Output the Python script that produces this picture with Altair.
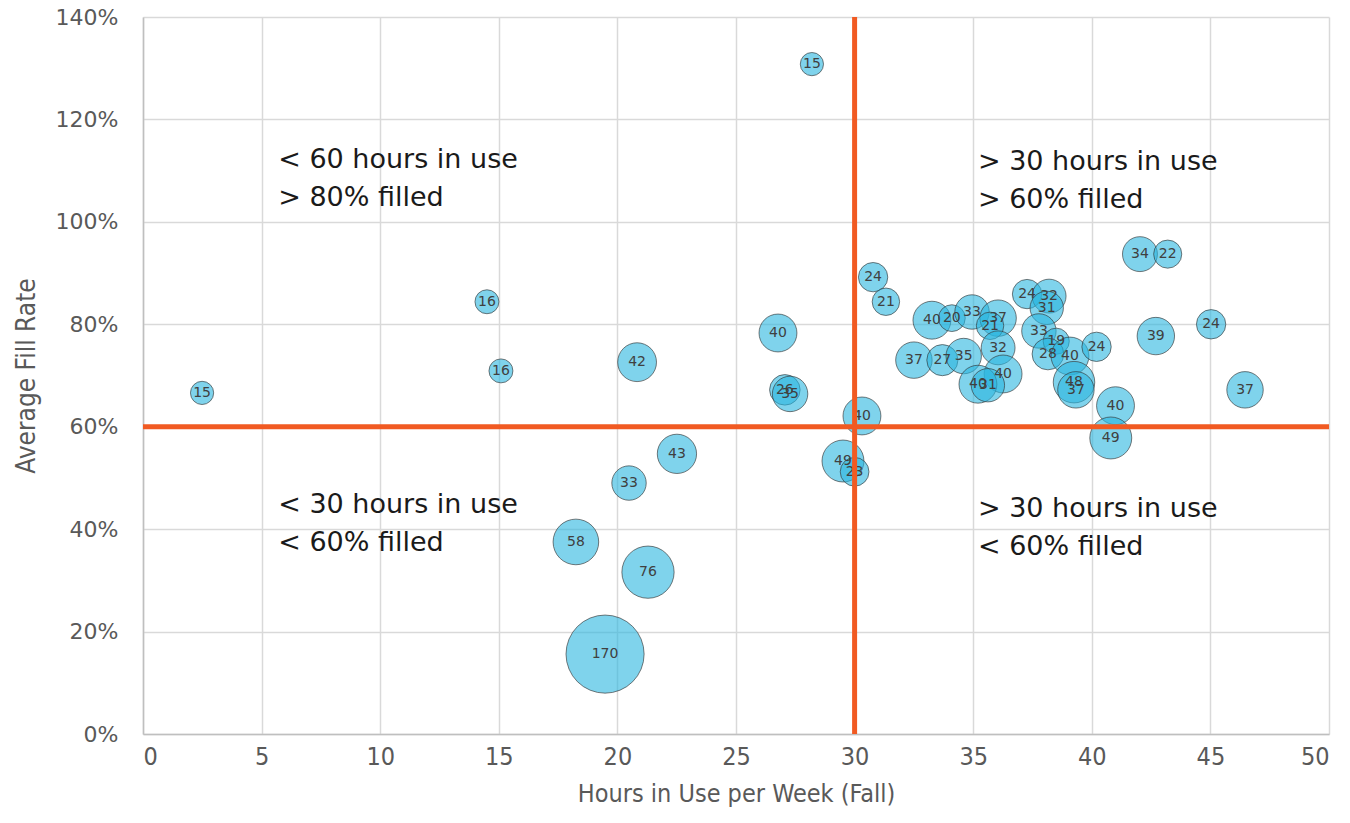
import altair as alt
import pandas as pd

hours = [2.49, 14.5, 15.09, 20.83, 26.77, 27.06, 27.28, 28.2, 30.31, 29.51, 30.0, 30.78, 31.32,
         22.51, 20.49, 18.25, 21.29, 19.48,
         33.26, 34.1, 34.95, 36.05, 35.71, 32.5, 33.7, 34.6, 36.05, 36.26, 35.2, 35.62,
         37.27, 38.2, 38.1, 37.77, 38.5, 38.15, 39.08, 40.2, 39.25, 39.33, 41.0, 40.8,
         42.03, 43.2, 42.7, 45.03, 46.46]
fill = [0.666, 0.844, 0.709, 0.726, 0.783, 0.672, 0.664, 1.308, 0.621, 0.533, 0.512, 0.892, 0.844,
        0.547, 0.490, 0.375, 0.316, 0.156,
        0.808, 0.812, 0.824, 0.812, 0.797, 0.730, 0.730, 0.738, 0.754, 0.703, 0.683, 0.681,
        0.859, 0.855, 0.832, 0.787, 0.767, 0.742, 0.738, 0.756, 0.687, 0.672, 0.641, 0.578,
        0.937, 0.937, 0.777, 0.800, 0.672]
sizes = [15, 16, 16, 42, 40, 26, 35, 15, 40, 49, 23, 24, 21,
         43, 33, 58, 76, 170,
         40, 20, 33, 37, 21, 37, 27, 35, 32, 40, 40, 31,
         24, 32, 31, 33, 19, 28, 40, 24, 48, 37, 40, 49,
         34, 22, 39, 24, 37]

note_x = [5.7, 35.2, 5.7, 35.2]
note_y = [1.12, 1.117, 0.448, 0.44]
note_text = ["< 60 hours in use\n> 80% filled", "> 30 hours in use\n> 60% filled",
             "< 30 hours in use\n< 60% filled", "> 30 hours in use\n< 60% filled"]

x_threshold = [30]
y_threshold = [0.60]

df = pd.DataFrame({"hours": hours, "fill": fill, "size": sizes})
notes = pd.DataFrame({"x": note_x, "y": note_y, "t": note_text})

narrow = "Liberation Sans Narrow, DejaVu Sans Condensed, sans-serif"

xscale = alt.Scale(domain=[0, 50], nice=False)
yscale = alt.Scale(domain=[0, 1.4], nice=False)

base = alt.Chart(df)

bubbles = base.mark_circle(fill="#29B6E0", fillOpacity=0.6, stroke="#333333",
                           strokeWidth=0.8, strokeOpacity=0.8).encode(
    x=alt.X("hours:Q", scale=xscale,
            axis=alt.Axis(title="Hours in Use per Week (Fall)", values=list(range(0, 51, 5)),
                          labelFont=narrow, labelFontSize=25, labelColor="#595959",
                          titleFont=narrow, titleFontSize=25, titleColor="#595959",
                          titleFontWeight="normal", titlePadding=12, labelPadding=10,
                          ticks=False, domainColor="#BFBFBF", domainWidth=1.5,
                          gridColor="#D9D9D9", gridWidth=1.5)),
    y=alt.Y("fill:Q", scale=yscale,
            axis=alt.Axis(title="Average Fill Rate", format=".0%", values=[i / 10 for i in range(0, 15, 2)],
                          labelFont="DejaVu Sans", labelFontSize=22, labelColor="#595959",
                          titleFont=narrow, titleFontSize=26, titleColor="#595959",
                          titleFontWeight="normal", titlePadding=16, labelPadding=25,
                          ticks=False, domainColor="#BFBFBF", domainWidth=1.5,
                          gridColor="#D9D9D9", gridWidth=1.5)),
    size=alt.Size("size:Q", scale=alt.Scale(domain=[0, 170], range=[0, 6100]), legend=None),
)

labels = base.mark_text(font="DejaVu Sans", fontSize=14, color="#404040").encode(
    x=alt.X("hours:Q", scale=xscale),
    y=alt.Y("fill:Q", scale=yscale),
    text="size:Q",
)

vline = alt.Chart(pd.DataFrame({"x": x_threshold})).mark_rule(color="#F15A22", strokeWidth=5).encode(
    x=alt.X("x:Q", scale=xscale))
hline = alt.Chart(pd.DataFrame({"y": y_threshold})).mark_rule(color="#F15A22", strokeWidth=5).encode(
    y=alt.Y("y:Q", scale=yscale))

text = alt.Chart(notes).mark_text(align="left", baseline="middle", font="DejaVu Sans", fontSize=27,
                                  color="#1a1a1a", lineBreak="\n", lineHeight=38).encode(
    x=alt.X("x:Q", scale=xscale),
    y=alt.Y("y:Q", scale=yscale),
    text="t:N",
)

chart = alt.layer(bubbles, labels, hline, vline, text).properties(
    width=1186, height=717,
    autosize=alt.AutoSizeParams(type="none"),
    padding={"left": 135, "top": 9, "right": 13, "bottom": 81},
).configure_view(stroke=None)

chart.save("out.html", embed_options={"renderer": "svg", "actions": False})
